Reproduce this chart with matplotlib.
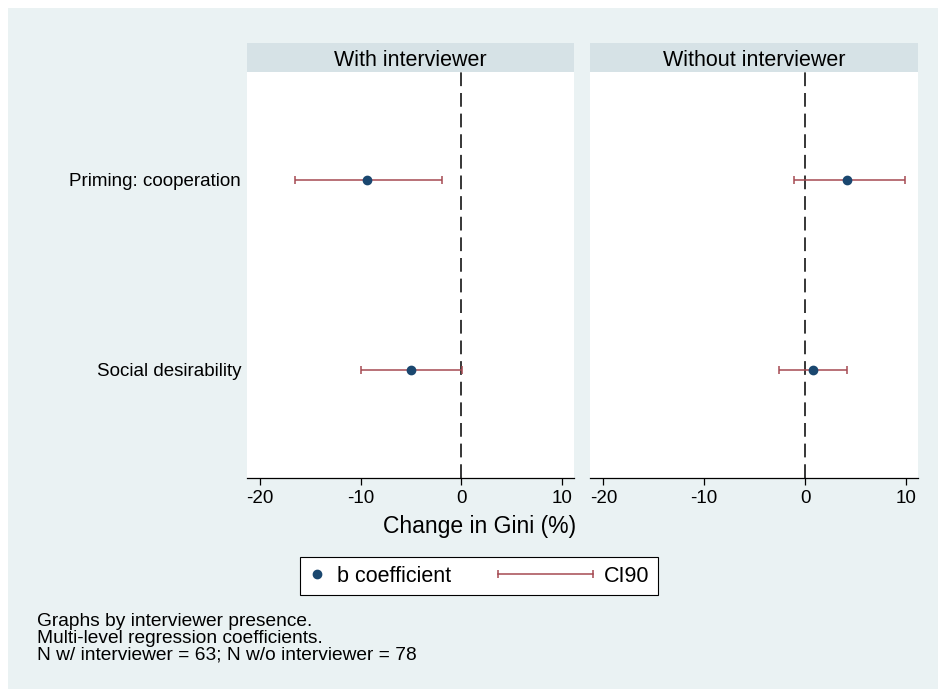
"""Coefficient plot: priming effects on Gini, by interviewer presence."""
import matplotlib
matplotlib.use("Agg")
import matplotlib.pyplot as plt
from matplotlib.lines import Line2D
from matplotlib.patches import Rectangle
from matplotlib.legend_handler import HandlerBase

plt.rcParams["font.family"] = ["Liberation Sans", "DejaVu Sans"]
plt.rcParams["axes.unicode_minus"] = False

PANELS = ["With interviewer", "Without interviewer"]
TERMS = ["Priming: cooperation", "Social desirability"]
coef_with = [-9.4, -5.05]
lo_with = [-16.5, -10.0]
hi_with = [-1.95, 0.1]
coef_without = [4.2, 0.75]
lo_without = [-1.1, -2.6]
hi_without = [9.9, 4.15]
XTICKS = [-20, -10, 0, 10]
NOTES = ["Graphs by interviewer presence.",
         "Multi-level regression coefficients.",
         "N w/ interviewer = 63; N w/o interviewer = 78"]

BG = "#EAF2F3"
STRIP = "#D6E2E6"
NAVY = "#1A476F"
CI_COL = "#A54A52"
W, H = 938, 689


def box(x0, y0, x1, y1):
    # pixel box (top-left origin) -> figure fraction rect
    return [x0 / W, 1 - y1 / H, (x1 - x0) / W, (y1 - y0) / H]


class CIHandler(HandlerBase):
    # long capped segment that reaches left of the (short) handle box
    def create_artists(self, legend, orig_handle, xdescent, ydescent, width, height, fontsize, trans):
        y = height / 2 - ydescent
        x1 = width - xdescent
        x0 = x1 - 4.4 * fontsize
        seg = Line2D([x0, x1], [y, y], color=CI_COL, lw=1.1)
        caps = Line2D([x0, x1], [y, y], ls="none", marker="|", ms=6, mew=1.1, color=CI_COL)
        seg.set_transform(trans); caps.set_transform(trans)
        return [seg, caps]


fig = plt.figure(figsize=(W / 100, H / 100), dpi=100, facecolor="white")
fig.add_artist(Rectangle((8 / W, 0), 1 - 8 / W, 1 - 8 / H, transform=fig.transFigure,
                         facecolor=BG, edgecolor="none", zorder=-10))

ypos = [i + 1 for i in range(len(TERMS))]
series = [(coef_with, lo_with, hi_with), (coef_without, lo_without, hi_without)]
xs = [(246.7, 574.3), (590.3, 918.0)]

for k, (name, (c, lo, hi), (x0, x1)) in enumerate(zip(PANELS, series, xs)):
    ax = fig.add_axes(box(x0, 72, x1, 477.5))
    ax.set_facecolor("white")
    err = [[ci - l for ci, l in zip(c, lo)], [h - ci for ci, h in zip(c, hi)]]
    ax.errorbar(c, ypos, xerr=err, fmt="none", ecolor=CI_COL, elinewidth=1.1,
                capsize=2.9, capthick=1.1, zorder=2)
    ax.plot(c, ypos, "o", color=NAVY, ms=6, zorder=3)
    ax.axvline(0, color="black", lw=1.1, dashes=(9, 4.5), zorder=1)
    ax.set_xlim(-21.3, 11.2); ax.set_ylim(2.568, 0.432)
    ax.set_xticks(XTICKS)
    ax.set_yticks(ypos)
    ax.set_yticklabels(TERMS if k == 0 else [])
    for s in ("top", "left", "right"):
        ax.spines[s].set_visible(False)
    ax.spines["bottom"].set_linewidth(0.9)
    ax.tick_params(axis="x", length=5, width=0.9, pad=4, labelsize=13.5)
    ax.tick_params(axis="y", length=0, pad=4, labelsize=13.5)

    sx = fig.add_axes(box(x0, 43, x1, 72))
    sx.set_facecolor(STRIP)
    sx.set_xticks([]); sx.set_yticks([])
    for s in sx.spines.values():
        s.set_visible(False)
    sx.text(0.5, 0.5, name, ha="center", va="center_baseline", fontsize=15.5)

fig.text(480 / W, 1 - 527 / H, "Change in Gini (%)", ha="center", va="center", fontsize=16.5)

mk = Line2D([], [], ls="none", marker="o", ms=6, color=NAVY)
ci = Line2D([], [], color=CI_COL)
leg = fig.legend([mk, ci], ["b coefficient", "CI90"], loc="center",
                 bbox_to_anchor=(479 / W, 1 - 576 / H), ncol=2, fontsize=15.5,
                 frameon=True, fancybox=False, edgecolor="black", framealpha=1,
                 handlelength=0.8, handletextpad=0.5, columnspacing=5.8, borderpad=0.4,
                 handler_map={ci: CIHandler()})
leg.get_frame().set_linewidth(0.8)

for i, line in enumerate(NOTES):
    fig.text(37 / W, 1 - (626 + 17 * i) / H, line, ha="left", va="baseline", fontsize=13.8)

fig.savefig("out.png", dpi=100, facecolor=fig.get_facecolor())
